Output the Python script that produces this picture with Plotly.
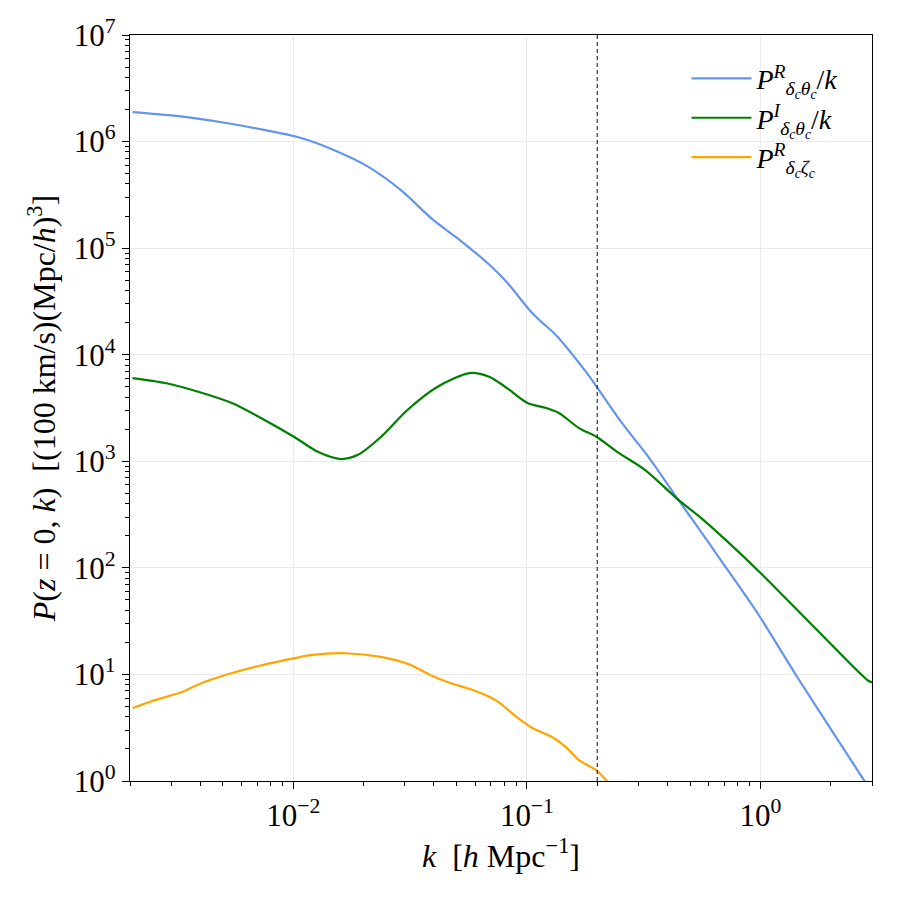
import plotly.graph_objects as go

# ---- data ----
k_theta_R = [0.00205, 0.00316, 0.00501, 0.00708, 0.0108, 0.0149, 0.0208, 0.0288, 0.0397,
             0.0516, 0.0693, 0.0819, 0.1025, 0.113, 0.133, 0.179, 0.199, 0.255,
             0.331, 0.445, 0.505, 0.690, 0.970, 1.435, 2.77, 3.0]
P_theta_R = [1.89e6, 1.74e6, 1.51e6, 1.32e6, 1.08e6, 8.34e5, 5.85e5, 3.52e5, 1.84e5,
             1.19e5, 6.95e4, 4.81e4, 2.63e4, 2.12e4, 1.53e4, 6.9e3, 5.0e3, 2.29e3,
             1.10e3, 434, 294, 111, 37.7, 9.46, 1.02, 0.78]

k_theta_I = [0.00205, 0.00283, 0.00395, 0.00546, 0.00753, 0.0101, 0.0128, 0.0160, 0.0189,
             0.0237, 0.0308, 0.0413, 0.0570, 0.0693, 0.0764, 0.0843, 0.1005, 0.121, 0.137,
             0.167, 0.199, 0.247, 0.321, 0.445, 0.556, 0.970, 1.694, 2.90, 3.0]
P_theta_I = [6040, 5430, 4470, 3520, 2440, 1690, 1220, 1050, 1150,
             1690, 3030, 4980, 6730, 6180, 5430, 4670, 3520, 3160, 2840,
             2050, 1690, 1200, 828, 434, 294, 95.5, 27.9, 8.67, 8.45]

k_zeta_R = [0.00205, 0.00249, 0.00334, 0.00406, 0.00546, 0.00710, 0.00889, 0.0119,
            0.0168, 0.0237, 0.0317, 0.0385, 0.0469, 0.0570, 0.0693, 0.0764, 0.0902,
            0.1054, 0.128, 0.147, 0.167, 0.197, 0.218, 0.229]
P_zeta_R = [4.84, 5.64, 6.84, 8.30, 10.3, 12.0, 13.4, 15.2,
            15.8, 14.6, 12.3, 9.89, 8.30, 7.29, 6.14, 5.40, 3.99,
            3.14, 2.59, 2.08, 1.57, 1.27, 1.02, 0.89]

k_cut = 0.2
x_range = [0.002, 3.0]
y_range = [1.0, 1e7]

x_tickvals = [0.01, 0.1, 1.0]
x_ticktext = ["10<sup>\u22122</sup>", "10<sup>\u22121</sup>", "10<sup>0</sup>"]
y_tickvals = [1, 10, 100, 1e3, 1e4, 1e5, 1e6, 1e7]
y_ticktext = ["10<sup>0</sup>", "10<sup>1</sup>", "10<sup>2</sup>", "10<sup>3</sup>",
              "10<sup>4</sup>", "10<sup>5</sup>", "10<sup>6</sup>", "10<sup>7</sup>"]

names = [
    "<i>P</i><sup><i>R</i></sup><sub><i>\u03b4<sub>c</sub>\u03b8<sub>c</sub></i></sub>/<i>k</i>",
    "<i>P</i><sup><i>I</i></sup><sub><i>\u03b4<sub>c</sub>\u03b8<sub>c</sub></i></sub>/<i>k</i>",
    "<i>P</i><sup><i>R</i></sup><sub><i>\u03b4<sub>c</sub>\u03b6<sub>c</sub></i></sub>",
]
colors = ["#6495ED", "#008000", "#FFA500"]

FONT = "Liberation Serif"

fig = go.Figure()
for kx, py, nm, c in [(k_theta_R, P_theta_R, names[0], colors[0]),
                      (k_theta_I, P_theta_I, names[1], colors[1]),
                      (k_zeta_R, P_zeta_R, names[2], colors[2])]:
    fig.add_trace(go.Scatter(x=kx, y=py, mode="lines", name=nm,
                             line=dict(color=c, width=2.2, shape="spline", smoothing=0.8)))

fig.add_trace(go.Scatter(x=[k_cut, k_cut], y=y_range, mode="lines", showlegend=False,
                         line=dict(color="#222222", width=1.1, dash="4px,3px"),
                         hoverinfo="skip"))

def minor_vals(lo_exp, hi_exp):
    return [m * 10.0 ** e for e in range(lo_exp, hi_exp) for m in range(2, 10)]

axis_common = dict(
    type="log", showline=True, linecolor="black", linewidth=1.2, mirror=True,
    ticks="outside", ticklen=7, tickwidth=1, tickcolor="black",
    showgrid=True, gridcolor="#ebebeb", gridwidth=1, zeroline=False,
    tickfont=dict(family=FONT, size=31, color="black"),
)

fig.update_xaxes(
    **axis_common,
    range=[-2.69897, 0.4771],
    tickmode="array", tickvals=x_tickvals, ticktext=x_ticktext,
    minor=dict(tickmode="array", tickvals=minor_vals(-3, 1), ticks="outside",
               ticklen=4, tickcolor="black", showgrid=False),
    title=dict(text="<i>k</i>  [<i>h</i> Mpc<sup>\u22121</sup>]",
               font=dict(family=FONT, size=32, color="black"), standoff=10),
)
fig.update_yaxes(
    **axis_common,
    range=[0, 7],
    tickmode="array", tickvals=y_tickvals, ticktext=y_ticktext,
    minor=dict(tickmode="array", tickvals=minor_vals(0, 7), ticks="outside",
               ticklen=4, tickcolor="black", showgrid=False),
    title=dict(text="<i>P</i>(<i>z</i> = 0, <i>k</i>)  [(100 km/s)(Mpc/<i>h</i>)<sup>3</sup>]",
               font=dict(family=FONT, size=32, color="black"), standoff=8),
)

fig.update_layout(
    width=900, height=900,
    margin=dict(l=130, r=28, t=35, b=119),
    paper_bgcolor="white", plot_bgcolor="white",
    font=dict(family=FONT, color="black"),
    legend=dict(x=0.75, y=0.975, xanchor="left", yanchor="top",
                bgcolor="rgba(0,0,0,0)", borderwidth=0,
                font=dict(family=FONT, size=28, color="black"),
                itemwidth=60, tracegroupgap=0),
)

fig.write_html("out.html")
